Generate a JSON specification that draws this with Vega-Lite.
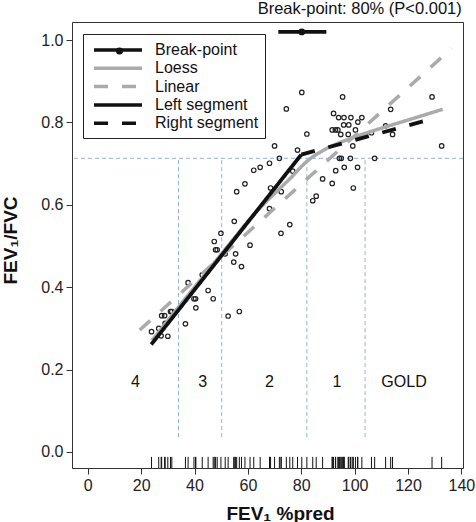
{
  "$schema": "https://vega.github.io/schema/vega-lite/v6.json",
  "width": 391,
  "height": 446,
  "autosize": "none",
  "padding": {"left": 72, "top": 22, "right": 13, "bottom": 54},
  "background": "white",
  "title": {
    "text": "Break-point: 80% (P<0.001)",
    "anchor": "end",
    "orient": "top",
    "font": "Liberation Sans",
    "fontSize": 16.5,
    "fontWeight": "normal",
    "color": "#111",
    "offset": 5,
    "dx": -13
  },
  "datasets": {
    "patients": [
      {"fev1": 23.9, "ratio": 0.292}, {"fev1": 26.6, "ratio": 0.300}, {"fev1": 27.5, "ratio": 0.282},
      {"fev1": 27.7, "ratio": 0.331}, {"fev1": 28.8, "ratio": 0.331}, {"fev1": 29.0, "ratio": 0.312},
      {"fev1": 30.0, "ratio": 0.281}, {"fev1": 31.0, "ratio": 0.341}, {"fev1": 31.5, "ratio": 0.341},
      {"fev1": 36.6, "ratio": 0.311}, {"fev1": 37.6, "ratio": 0.411}, {"fev1": 39.8, "ratio": 0.372},
      {"fev1": 40.4, "ratio": 0.372}, {"fev1": 40.5, "ratio": 0.350}, {"fev1": 42.9, "ratio": 0.430},
      {"fev1": 45.1, "ratio": 0.392}, {"fev1": 47.0, "ratio": 0.372}, {"fev1": 47.4, "ratio": 0.511},
      {"fev1": 47.9, "ratio": 0.491}, {"fev1": 48.5, "ratio": 0.491}, {"fev1": 49.9, "ratio": 0.531},
      {"fev1": 51.5, "ratio": 0.481}, {"fev1": 52.6, "ratio": 0.330}, {"fev1": 54.7, "ratio": 0.461},
      {"fev1": 54.9, "ratio": 0.560}, {"fev1": 55.4, "ratio": 0.481}, {"fev1": 55.8, "ratio": 0.632},
      {"fev1": 56.8, "ratio": 0.341}, {"fev1": 57.6, "ratio": 0.450}, {"fev1": 58.9, "ratio": 0.651},
      {"fev1": 60.8, "ratio": 0.502}, {"fev1": 62.2, "ratio": 0.684}, {"fev1": 64.6, "ratio": 0.691},
      {"fev1": 68.1, "ratio": 0.591}, {"fev1": 68.1, "ratio": 0.701}, {"fev1": 68.5, "ratio": 0.641},
      {"fev1": 70.0, "ratio": 0.743}, {"fev1": 71.8, "ratio": 0.713}, {"fev1": 72.4, "ratio": 0.531},
      {"fev1": 72.5, "ratio": 0.632}, {"fev1": 74.4, "ratio": 0.833}, {"fev1": 75.7, "ratio": 0.552},
      {"fev1": 76.8, "ratio": 0.682}, {"fev1": 78.6, "ratio": 0.733}, {"fev1": 80.2, "ratio": 0.873},
      {"fev1": 82.1, "ratio": 0.772}, {"fev1": 84.3, "ratio": 0.610}, {"fev1": 85.6, "ratio": 0.621},
      {"fev1": 88.0, "ratio": 0.663}, {"fev1": 91.6, "ratio": 0.652}, {"fev1": 91.6, "ratio": 0.782},
      {"fev1": 92.1, "ratio": 0.822}, {"fev1": 92.8, "ratio": 0.782}, {"fev1": 92.9, "ratio": 0.683},
      {"fev1": 93.7, "ratio": 0.782}, {"fev1": 94.0, "ratio": 0.812}, {"fev1": 94.3, "ratio": 0.713},
      {"fev1": 94.8, "ratio": 0.771}, {"fev1": 95.0, "ratio": 0.713}, {"fev1": 95.5, "ratio": 0.862},
      {"fev1": 95.9, "ratio": 0.794}, {"fev1": 96.0, "ratio": 0.812}, {"fev1": 96.1, "ratio": 0.691},
      {"fev1": 97.6, "ratio": 0.771}, {"fev1": 97.8, "ratio": 0.794}, {"fev1": 98.4, "ratio": 0.713},
      {"fev1": 98.6, "ratio": 0.812}, {"fev1": 99.3, "ratio": 0.743}, {"fev1": 99.5, "ratio": 0.641},
      {"fev1": 100.3, "ratio": 0.782}, {"fev1": 101.1, "ratio": 0.691}, {"fev1": 101.2, "ratio": 0.801},
      {"fev1": 102.7, "ratio": 0.812}, {"fev1": 106.3, "ratio": 0.775}, {"fev1": 107.5, "ratio": 0.713},
      {"fev1": 111.6, "ratio": 0.792}, {"fev1": 113.5, "ratio": 0.832}, {"fev1": 114.2, "ratio": 0.771},
      {"fev1": 129.0, "ratio": 0.862}, {"fev1": 132.6, "ratio": 0.743}
    ],
    "fits": [
      {"series": "Linear", "fev1": 19.5, "ratio": 0.296},
      {"series": "Linear", "fev1": 136.3, "ratio": 0.980},
      {"series": "Loess", "fev1": 24.0, "ratio": 0.270},
      {"series": "Loess", "fev1": 35.0, "ratio": 0.360},
      {"series": "Loess", "fev1": 45.0, "ratio": 0.440},
      {"series": "Loess", "fev1": 55.0, "ratio": 0.520},
      {"series": "Loess", "fev1": 62.0, "ratio": 0.575},
      {"series": "Loess", "fev1": 68.0, "ratio": 0.615},
      {"series": "Loess", "fev1": 72.0, "ratio": 0.640},
      {"series": "Loess", "fev1": 76.0, "ratio": 0.665},
      {"series": "Loess", "fev1": 82.0, "ratio": 0.705},
      {"series": "Loess", "fev1": 89.0, "ratio": 0.735},
      {"series": "Loess", "fev1": 98.0, "ratio": 0.760},
      {"series": "Loess", "fev1": 108.0, "ratio": 0.782},
      {"series": "Loess", "fev1": 120.0, "ratio": 0.806},
      {"series": "Loess", "fev1": 133.0, "ratio": 0.832},
      {"series": "Left segment", "fev1": 23.8, "ratio": 0.261},
      {"series": "Left segment", "fev1": 80.0, "ratio": 0.722},
      {"series": "Right segment", "fev1": 80.0, "ratio": 0.722},
      {"series": "Right segment", "fev1": 130.3, "ratio": 0.811},
      {"series": "Break-point", "fev1": 71.4, "ratio": 1.02},
      {"series": "Break-point", "fev1": 89.4, "ratio": 1.02}
    ],
    "cuts": [
      {"fev1": 34.0, "lo": 0.036, "hi": 0.713},
      {"fev1": 50.2, "lo": 0.036, "hi": 0.713},
      {"fev1": 82.1, "lo": 0.036, "hi": 0.713},
      {"fev1": 103.9, "lo": 0.036, "hi": 0.713}
    ],
    "stages": [
      {"stage": "4", "fev1": 17.9, "ratio": 0.170},
      {"stage": "3", "fev1": 43.1, "ratio": 0.170},
      {"stage": "2", "fev1": 68.1, "ratio": 0.170},
      {"stage": "1", "fev1": 93.4, "ratio": 0.170},
      {"stage": "GOLD", "fev1": 118.5, "ratio": 0.170}
    ]
  },
  "encoding": {
    "x": {
      "field": "fev1",
      "type": "quantitative",
      "scale": {"domain": [-5.9, 140.6], "nice": false, "zero": false},
      "axis": {
        "values": [0, 20, 40, 60, 80, 100, 120, 140],
        "title": "FEV₁ %pred",
        "titleX": 208,
        "titleY": 51,
        "titleAlign": "center",
        "titleBaseline": "alphabetic",
        "labelPadding": 3
      }
    },
    "y": {
      "field": "ratio",
      "type": "quantitative",
      "scale": {"domain": [-0.039, 1.044], "nice": false, "zero": false},
      "axis": {
        "values": [0, 0.2, 0.4, 0.6, 0.8, 1.0],
        "format": ".1f",
        "title": "FEV₁/FVC",
        "titleX": -56,
        "titleY": 218,
        "titleAngle": -90,
        "titleAlign": "center",
        "titleBaseline": "alphabetic",
        "labelPadding": 3
      }
    }
  },
  "layer": [
    {
      "data": {"name": "cuts"},
      "mark": {"type": "rule", "color": "#8fb3dc", "strokeWidth": 1, "strokeDash": [4, 3]},
      "encoding": {
        "y": {"field": "lo", "type": "quantitative"},
        "y2": {"field": "hi"}
      }
    },
    {
      "data": {"values": [{"threshold": 0.713}]},
      "mark": {"type": "rule", "color": "#8fb3dc", "strokeWidth": 1, "strokeDash": [4, 3]},
      "encoding": {
        "x": null,
        "y": {"field": "threshold", "type": "quantitative"}
      }
    },
    {
      "data": {"name": "patients"},
      "mark": {"type": "point", "shape": "circle", "filled": false, "size": 20, "strokeWidth": 1.2, "color": "#222", "opacity": 1}
    },
    {
      "data": {"name": "patients"},
      "mark": {"type": "rule", "color": "#111", "strokeWidth": 1},
      "encoding": {
        "y": {"datum": -0.012},
        "y2": {"datum": -0.039}
      }
    },
    {
      "data": {"name": "fits"},
      "transform": [{"filter": "datum.series === 'Linear'"}],
      "mark": {"type": "line", "strokeWidth": 3.5, "strokeCap": "butt"},
      "encoding": {
        "color": {"field": "series", "type": "nominal", "title": null,
          "scale": {"domain": ["Break-point", "Loess", "Linear", "Left segment", "Right segment"],
                    "range": ["#111111", "#aaaaaa", "#aaaaaa", "#111111", "#111111"]}},
        "strokeDash": {"field": "series", "type": "nominal", "title": null,
          "scale": {"domain": ["Break-point", "Loess", "Linear", "Left segment", "Right segment"],
                    "range": [[1, 0], [1, 0], [14, 14], [1, 0], [14, 14]]}}
      }
    },
    {
      "data": {"name": "fits"},
      "transform": [{"filter": "datum.series === 'Loess'"}],
      "mark": {"type": "line", "strokeWidth": 3.5, "strokeCap": "butt", "interpolate": "monotone"},
      "encoding": {
        "color": {"field": "series", "type": "nominal", "title": null},
        "strokeDash": {"field": "series", "type": "nominal", "title": null}
      }
    },
    {
      "data": {"name": "fits"},
      "transform": [{"filter": "datum.series === 'Left segment' || datum.series === 'Right segment'"}],
      "mark": {"type": "line", "strokeWidth": 3.8, "strokeCap": "butt"},
      "encoding": {
        "color": {"field": "series", "type": "nominal", "title": null},
        "strokeDash": {"field": "series", "type": "nominal", "title": null},
        "detail": {"field": "series"}
      }
    },
    {
      "data": {"name": "fits"},
      "transform": [{"filter": "datum.series === 'Break-point'"}],
      "mark": {"type": "line", "strokeWidth": 3.8, "strokeCap": "butt"},
      "encoding": {
        "color": {"field": "series", "type": "nominal", "title": null},
        "strokeDash": {"field": "series", "type": "nominal", "title": null}
      }
    },
    {
      "data": {"values": [{"marker": "Break-point", "fev1": 80.2, "ratio": 1.02}]},
      "mark": {"type": "point", "filled": true, "size": 45, "color": "#111", "opacity": 1},
      "encoding": {
        "shape": {
          "field": "marker",
          "type": "nominal",
          "title": null,
          "scale": {"range": ["circle"]},
          "legend": {
            "orient": "none",
            "legendX": 39.5,
            "legendY": 21,
            "padding": 0,
            "strokeColor": "transparent",
            "fillColor": "transparent",
            "symbolType": "circle",
            "symbolSize": 50,
            "symbolStrokeWidth": 0,
            "symbolFillColor": "#111",
            "labelExpr": "''",
            "labelOffset": 0,
            "zindex": 2
          }
        }
      }
    },
    {
      "data": {"name": "stages"},
      "mark": {"type": "text", "font": "Liberation Sans", "fontSize": 16, "color": "#111", "baseline": "middle", "align": "center"},
      "encoding": {
        "text": {"field": "stage"}
      }
    }
  ],
  "config": {
    "view": {"stroke": "#333", "strokeWidth": 1},
    "axis": {
      "labelFont": "Liberation Sans",
      "labelFontSize": 16,
      "labelColor": "#222",
      "tickColor": "#333",
      "tickSize": 6,
      "domain": false,
      "grid": false,
      "titleFont": "Liberation Sans",
      "titleFontSize": 19,
      "titleFontWeight": "bold",
      "titleColor": "#111"
    },
    "legend": {
      "orient": "none",
      "legendX": 11,
      "legendY": 12,
      "symbolType": "M-0.625,0H5.375",
      "symbolSize": 256,
      "symbolStrokeWidth": 3.5,
      "labelFont": "Liberation Sans",
      "labelFontSize": 16,
      "labelColor": "#111",
      "labelOffset": 46,
      "rowPadding": 0.3,
      "padding": 6,
      "strokeColor": "#222",
      "fillColor": "white"
    }
  }
}
